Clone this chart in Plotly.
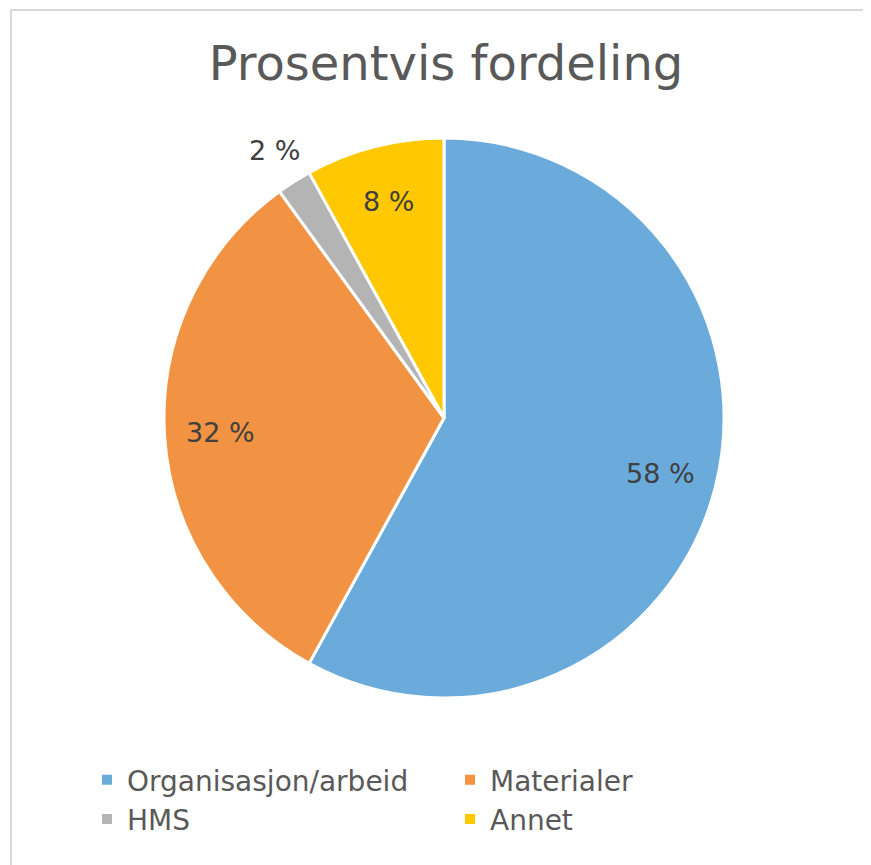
import math
import plotly.graph_objects as go

categories = ["Organisasjon/arbeid", "Materialer", "HMS", "Annet"]
values = [58, 32, 2, 8]
colors = ["#6AABDC", "#F19342", "#B4B4B4", "#FFC800"]
labels_text = [f"{v} %" for v in values]

W, H = 871, 865
OFF = 8  # page body margin offset
cx, cy, r = 444 - OFF, 418 - OFF, 280
FONT = "DejaVu Sans"

fig = go.Figure()
fig.add_trace(go.Pie(
    labels=categories,
    values=values,
    textinfo="none",
    sort=False,
    direction="clockwise",
    rotation=0,
    marker=dict(colors=colors, line=dict(color="white", width=3)),
    domain=dict(x=[(cx - r) / W, (cx + r) / W], y=[(H - cy - r) / H, (H - cy + r) / H]),
    showlegend=True,
    hoverinfo="label+percent",
))

# data labels placed from the slice mid-angles (computed from values)
total = sum(values)
annotations = []
cum = 0
for v, t in zip(values, labels_text):
    mid = (cum + v / 2) / total * 2 * math.pi
    cum += v
    f = 1.13 if v / total < 0.05 else 0.8
    px = cx + f * r * math.sin(mid)
    py = cy - f * r * math.cos(mid)
    annotations.append(dict(x=px / W, y=1 - py / H, xref="paper", yref="paper",
                            text=t, showarrow=False, xanchor="center", yanchor="middle",
                            font=dict(family=FONT, size=27, color="#404040")))

fig.update_layout(
    width=W, height=H,
    margin=dict(l=0, r=0, t=0, b=0),
    paper_bgcolor="white",
    plot_bgcolor="white",
    title=dict(text="Prosentvis fordeling", x=(446 - OFF) / W, xanchor="center",
               y=1 - (63 - OFF) / H, yanchor="middle", yref="container",
               font=dict(family=FONT, size=48, color="#595959")),
    legend=dict(orientation="h", x=(120 - 33 - OFF) / W, xanchor="left",
                y=1 - (755 - OFF) / H, yanchor="top",
                entrywidth=318, entrywidthmode="pixels",
                font=dict(family=FONT, size=28, color="#595959"),
                itemsizing="constant"),
    annotations=annotations,
    shapes=[dict(type="rect", xref="paper", yref="paper",
                 x0=(11 - OFF) / W, x1=1.05, y0=-0.05, y1=1 - (10 - OFF) / H,
                 line=dict(color="#D9D9D9", width=2), fillcolor="rgba(0,0,0,0)", layer="below")],
)

fig.write_html("out.html")
